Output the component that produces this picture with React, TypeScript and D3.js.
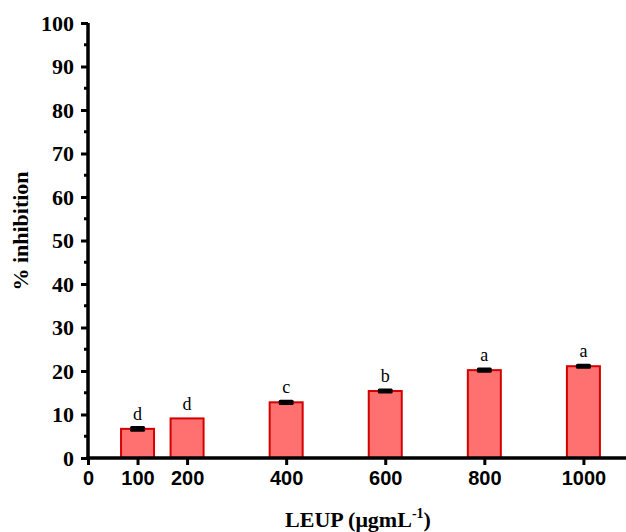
import * as d3 from "d3";
import React, { useRef, useEffect } from "react";

const doses = [100, 200, 400, 600, 800, 1000];
const inhibition = [6.7, 9.1, 12.8, 15.4, 20.2, 21.1];
const errors = [0.3, 0, 0.25, 0.25, 0.25, 0.25];
const letters = ["d", "d", "c", "b", "a", "a"];
const xTicks = [0, 100, 200, 400, 600, 800, 1000];

const App = () => {
  const ref = useRef(null);

  useEffect(() => {
    if (!ref.current) return;
    const W = 626;
    const H = 532;
    const svg = d3.select(ref.current);
    svg.selectAll("*").remove();

    const x = d3.scaleLinear().domain([0, 1090]).range([88, 628]);
    const y = d3.scaleLinear().domain([0, 100]).range([458, 23]);
    const barW = 33;
    const serif = "'Times New Roman', 'Liberation Serif', serif";
    const sans = "Arial, 'Liberation Sans', sans-serif";

    // bars
    svg
      .selectAll(".bar")
      .data(doses)
      .enter()
      .append("rect")
      .attr("x", (d) => x(d) - barW / 2)
      .attr("y", (d, i) => y(inhibition[i]))
      .attr("width", barW)
      .attr("height", (d, i) => y(0) - y(inhibition[i]))
      .attr("fill", "#ff7070")
      .attr("stroke", "#d40000")
      .attr("stroke-width", 2);

    // error bars + letters
    doses.forEach((d, i) => {
      const top = y(inhibition[i] + errors[i]);
      const bot = y(inhibition[i] - errors[i]);
      if (errors[i] > 0) {
        const g = svg.append("g");
        g.append("line")
          .attr("x1", x(d)).attr("x2", x(d))
          .attr("y1", top).attr("y2", bot)
          .attr("stroke", "#000").attr("stroke-width", 2);
        [top, bot].forEach((yy) =>
          g.append("line")
            .attr("x1", x(d) - 6).attr("x2", x(d) + 6)
            .attr("y1", yy).attr("y2", yy)
            .attr("stroke", "#000").attr("stroke-width", 3)
            .attr("stroke-linecap", "round")
        );
      }
      svg.append("text")
        .attr("x", x(d))
        .attr("y", top - 8)
        .attr("text-anchor", "middle")
        .attr("fill", "#000")
        .style("font-family", serif)
        .style("font-size", "18px")
        .text(letters[i]);
    });

    // y axis
    const yAxis = svg.append("g")
      .attr("transform", "translate(88,0)")
      .call(
        d3.axisLeft(y)
          .tickValues(d3.range(0, 101, 10))
          .tickSize(7)
          .tickPadding(7)
      );
    yAxis.select(".domain")
      .attr("stroke", "#000")
      .attr("stroke-width", 3.5)
      .attr("d", `M0,${y(100)}V${y(0) + 1.5}`);
    yAxis.selectAll(".tick line").attr("stroke", "#000").attr("stroke-width", 3);
    yAxis.selectAll("text")
      .style("font-family", serif)
      .style("font-weight", "bold")
      .style("font-size", "22px")
      .attr("fill", "#000");
    svg.append("g")
      .selectAll("line")
      .data(d3.range(5, 100, 10))
      .enter()
      .append("line")
      .attr("x1", 88).attr("x2", 84)
      .attr("y1", (d) => y(d)).attr("y2", (d) => y(d))
      .attr("stroke", "#000").attr("stroke-width", 3);

    // x axis
    const xAxis = svg.append("g")
      .attr("transform", "translate(0,458)")
      .call(
        d3.axisBottom(x)
          .tickValues(xTicks)
          .tickFormat(d3.format("d"))
          .tickSize(7)
          .tickPadding(6)
      );
    xAxis.select(".domain")
      .attr("stroke", "#000")
      .attr("stroke-width", 3.5)
      .attr("d", `M86.5,0H${W}`);
    xAxis.selectAll(".tick line").attr("stroke", "#000").attr("stroke-width", 3);
    xAxis.selectAll("text")
      .style("font-family", sans)
      .style("font-weight", "bold")
      .style("font-size", "20px")
      .attr("fill", "#000");

    // titles
    const xt = svg.append("text")
      .attr("x", 358)
      .attr("y", 527)
      .attr("text-anchor", "middle")
      .attr("fill", "#000")
      .style("font-family", serif)
      .style("font-weight", "bold")
      .style("font-size", "22px");
    xt.append("tspan").text("LEUP (μgmL");
    xt.append("tspan").attr("dy", -9).style("font-size", "14px").text("-1");
    xt.append("tspan").attr("dy", 9).text(")");

    svg.append("text")
      .attr("transform", "translate(28,231) rotate(-90)")
      .attr("text-anchor", "middle")
      .attr("fill", "#000")
      .style("font-family", serif)
      .style("font-weight", "bold")
      .style("font-size", "22px")
      .text("% inhibition");

    svg.attr("width", W).attr("height", H);
  }, []);

  return (
    <svg
      ref={ref}
      width={626}
      height={532}
      style={{ position: "absolute", left: 0, top: 0, background: "#fff" }}
    />
  );
};

export default App;
